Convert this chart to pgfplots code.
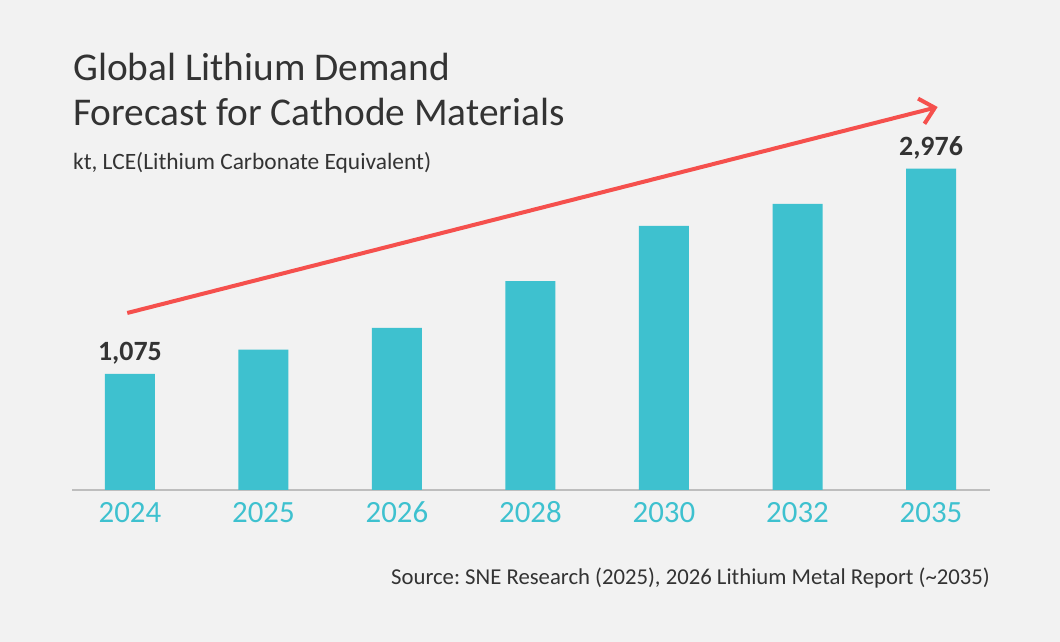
\documentclass[border=0pt]{standalone}
\usepackage{pgfplots}
\pgfplotsset{compat=1.18}
\usepackage{pgfplotstable}
\usepackage{fontspec}
\setmainfont{Carlito}
\usetikzlibrary{arrows.meta}
\frenchspacing

\definecolor{bgc}{HTML}{F2F2F2}
\definecolor{barc}{HTML}{3EC1CF}
\definecolor{redc}{HTML}{F5504D}
\definecolor{txtc}{HTML}{333333}
\definecolor{linec}{HTML}{BEBEBE}

% demand in kt LCE; label column holds the printed values
\pgfplotstableread{
x y lab
0 1075 1,075
1 1300 {}
2 1500 {}
3 1935 {}
4 2445 {}
5 2650 {}
6 2976 2,976
}\demand

\begin{document}
\begin{tikzpicture}[x=1bp,y=1bp]
\fill[bgc] (0,0) rectangle (1060,642);
\useasboundingbox (0,0) rectangle (1060,642);

\node[anchor=base west, inner sep=0, text=txtc, font=\fontsize{39.5}{39.5}\selectfont] at (73,561) {Global Lithium Demand};
\node[anchor=base west, inner sep=0, text=txtc, font=\fontsize{39.5}{39.5}\selectfont] at (73,516) {Forecast for Cathode Materials};
\node[anchor=base west, inner sep=0, text=txtc, font=\fontsize{23.5}{23.5}\selectfont] at (73,472) {kt, LCE(Lithium Carbonate Equivalent)};
\node[anchor=base east, inner sep=0, text=txtc, font=\fontsize{22.8}{22.8}\selectfont] at (990,57) {Source: SNE Research (2025), 2026 Lithium Metal Report (\textasciitilde2035)};

\begin{axis}[
  at={(72bp,152bp)}, anchor=south west,
  scale only axis, width=918bp, height=432bp,
  xmin=-0.434, xmax=6.442, ymin=0, ymax=4000,
  clip=false,
  axis x line=bottom, axis y line=none,
  x axis line style={linec, line width=2bp, -},
  xtick=data, xticklabels={2024,2025,2026,2028,2030,2032,2035},
  major tick length=0pt,
  xticklabel style={text=barc, font=\fontsize{31}{31}\selectfont,
    anchor=base, text height=0pt, text depth=0pt, inner sep=0pt, yshift=-33bp},
  ybar, bar width=50bp,
  nodes near coords, point meta=explicit symbolic,
  every node near coord/.append style={text=txtc, font=\bfseries\fontsize{28}{28}\selectfont, yshift=6bp},
]
\addplot[fill=barc, draw=none] table[x=x, y=y, meta=lab] {\demand};
\draw[redc, line width=4bp, -{Straight Barb[length=14bp, width=26bp, line width=4bp]}]
  (axis cs:-0.02,1639) -- (axis cs:6.05,3546);
\end{axis}
\end{tikzpicture}
\end{document}
